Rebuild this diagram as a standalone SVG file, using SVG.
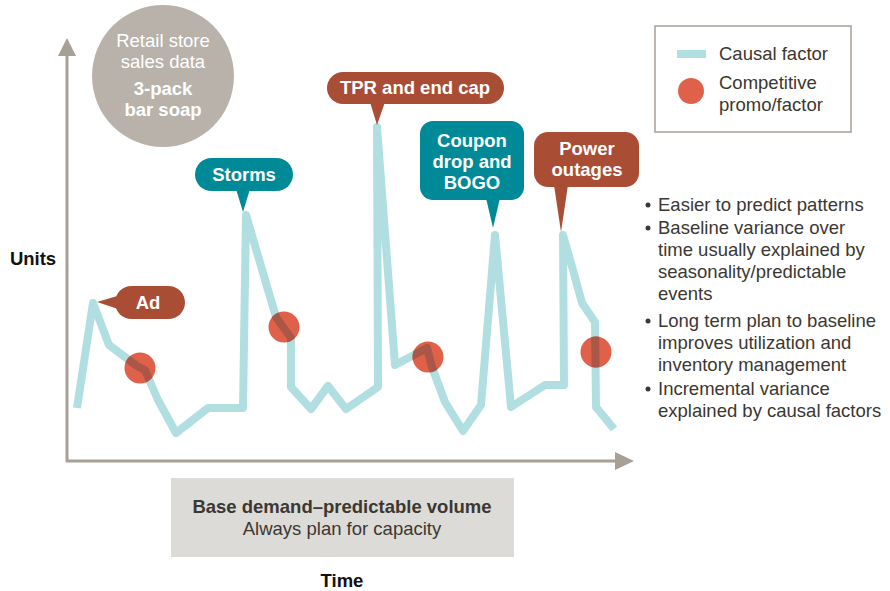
<svg xmlns="http://www.w3.org/2000/svg" width="890" height="591" viewBox="0 0 890 591">
<style>
text{font-family:"Liberation Sans",Arial,sans-serif}
.w{fill:#fff;font-weight:bold;font-size:18.5px;text-anchor:middle}
.brown{fill:#a94d35}
.teal{fill:#008a97}
.promo{fill:#e0614a}
.body{fill:#3b3731;font-size:18.5px}
.axis{stroke:#a89f95;stroke-width:3;fill:none}
.dot{fill:#3b3731}
</style>
<defs>
<polyline id="trend" fill="none" stroke-width="8" stroke-linejoin="round" points="77,408 93,303 109,345 137,366 145,370 158,400 176,433 208,408 243,408 246,215 276,317 291,338 291,387 311,409 328,386 346,409 378,387 377,127 395,365 427,348 432,367 445,402 463,431 481,405 495,235 511,407 545,385 564,385 563,235 573,270 582,303 595,322 596,407 614,429"/>
<clipPath id="promoClip">
<circle cx="140" cy="368" r="15.5"/>
<circle cx="284" cy="327" r="15.5"/>
<circle cx="428" cy="357" r="15.5"/>
<circle cx="596" cy="352" r="15.5"/>
</clipPath>
</defs>
<rect width="890" height="591" fill="#fff"/>
<g id="sales-data">
<circle cx="163" cy="76" r="71" fill="#b8b2aa"/>
<text x="163" y="47" fill="#fff" font-size="18.5" text-anchor="middle">Retail store</text>
<text x="163" y="68" fill="#fff" font-size="18.5" text-anchor="middle">sales data</text>
<text x="163" y="95" class="w">3-pack</text>
<text x="163" y="116" class="w">bar soap</text>
</g>
<g id="axes">
<line class="axis" x1="67" y1="54" x2="67" y2="462"/>
<line class="axis" x1="66" y1="461" x2="617" y2="461"/>
<polygon points="67,38 58,56 76,56" fill="#a89f95"/>
<polygon points="634,461 615,452 615,470" fill="#a89f95"/>
</g>
<g id="connectors">
<use href="#trend" stroke="#b1dfe1"/>
</g>
<g id="promos">
<circle class="promo" cx="140" cy="368" r="15.5"/>
<circle class="promo" cx="284" cy="327" r="15.5"/>
<circle class="promo" cx="428" cy="357" r="15.5"/>
<circle class="promo" cx="596" cy="352" r="15.5"/>
<use href="#trend" stroke="#ab5747" clip-path="url(#promoClip)"/>
</g>
<g id="ad">
<rect class="brown" x="115" y="286" width="70" height="33" rx="16.5"/>
<polygon class="brown" points="97,302 124,294 124,311"/>
<text x="148" y="309" class="w">Ad</text>
</g>
<g id="storms">
<rect class="teal" x="195" y="158" width="98" height="33" rx="16.5"/>
<polygon class="teal" points="236,189 250,189 243,212"/>
<text x="244" y="181" class="w">Storms</text>
</g>
<g id="tpr">
<rect class="brown" x="327" y="72" width="177" height="32" rx="16"/>
<polygon class="brown" points="370,102 385,102 377,125"/>
<text x="415" y="94" class="w">TPR and end cap</text>
</g>
<g id="coupon">
<rect class="teal" x="420" y="121" width="104" height="79" rx="13"/>
<polygon class="teal" points="486,198 500,198 493,228"/>
<text x="472" y="147" class="w">Coupon</text>
<text x="472" y="168" class="w">drop and</text>
<text x="472" y="189" class="w">BOGO</text>
</g>
<g id="power">
<rect class="brown" x="534" y="132" width="105" height="55" rx="14"/>
<polygon class="brown" points="554,185 568,185 561,232"/>
<text x="587" y="155" class="w">Power</text>
<text x="587" y="176" class="w">outages</text>
</g>
<g id="legend">
<rect x="655" y="26" width="196" height="106" fill="none" stroke="#a89f95" stroke-width="1.5"/>
<line x1="677" y1="54" x2="706" y2="54" stroke="#b1dfe1" stroke-width="8"/>
<text x="719" y="60" class="body">Causal factor</text>
<circle class="promo" cx="691" cy="91" r="13"/>
<text x="719" y="89" class="body">Competitive</text>
<text x="719" y="111" class="body">promo/factor</text>
</g>
<g id="bullets">
<circle class="dot" cx="648" cy="205" r="2.5"/>
<text x="658" y="211" class="body">Easier to predict patterns</text>
<circle class="dot" cx="648" cy="228" r="2.5"/>
<text x="658" y="234" class="body">Baseline variance over</text>
<text x="658" y="256" class="body">time usually explained by</text>
<text x="658" y="278" class="body">seasonality/predictable</text>
<text x="658" y="300" class="body">events</text>
<circle class="dot" cx="648" cy="321" r="2.5"/>
<text x="658" y="327" class="body">Long term plan to baseline</text>
<text x="658" y="349" class="body">improves utilization and</text>
<text x="658" y="371" class="body">inventory management</text>
<circle class="dot" cx="648" cy="389" r="2.5"/>
<text x="658" y="395" class="body">Incremental variance</text>
<text x="658" y="417" class="body">explained by causal factors</text>
</g>
<g id="units">
<text x="33" y="265" font-size="18.5" font-weight="bold" fill="#111" text-anchor="middle">Units</text>
</g>
<g id="base-demand">
<rect x="171" y="478" width="343" height="79" fill="#dddbd7"/>
<text x="342" y="513" font-size="18.5" font-weight="bold" fill="#3b3731" text-anchor="middle">Base demand–predictable volume</text>
<text x="342" y="535" font-size="18.5" fill="#3b3731" text-anchor="middle">Always plan for capacity</text>
</g>
<g id="time">
<text x="342" y="587" font-size="18.5" font-weight="bold" fill="#111" text-anchor="middle">Time</text>
</g>
</svg>
